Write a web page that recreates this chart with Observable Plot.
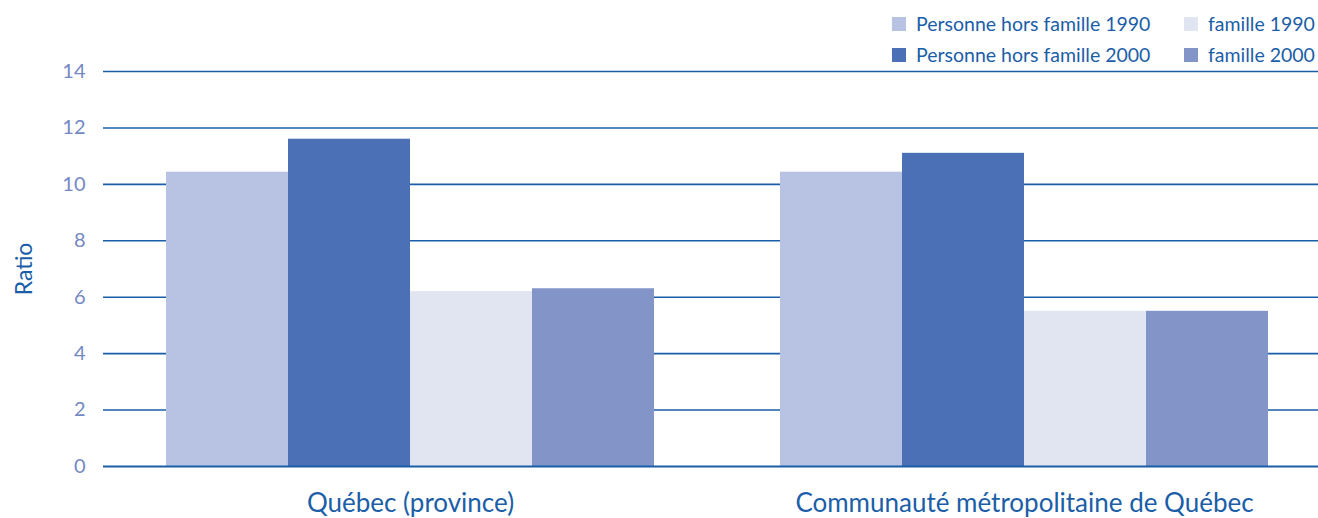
<!DOCTYPE html>
<html>
<head>
<meta charset="utf-8">
<script src="https://cdn.jsdelivr.net/npm/d3@7"></script>
<script src="https://cdn.jsdelivr.net/npm/@observablehq/plot@0.6"></script>
<style>
  body { margin: 0; background: #fff; font-family: Lato, "Open Sans", sans-serif; }
  #legend { position: relative; height: 50px; width: 1318px; }
  .item { position: absolute; display: flex; align-items: center; font-size: 19.5px; color: #1b5ea8; white-space: nowrap; line-height: 24px; }
  .sw { width: 14px; height: 14px; margin-right: 10px; }
</style>
</head>
<body>
<div id="legend"></div>
<div id="chart"></div>
<script>
const groups = ["Québec (province)", "Communauté métropolitaine de Québec"];
const series = ["Personne hors famille 1990", "Personne hors famille 2000", "famille 1990", "famille 2000"];
const colors = ["#b8c2e2", "#4b70b6", "#e0e5f1", "#8294c8"];
const personne1990 = [10.43, 10.43];
const personne2000 = [11.6, 11.1];
const famille1990 = [6.2, 5.5];
const famille2000 = [6.3, 5.5];
const yTicks = [0, 2, 4, 6, 8, 10, 12, 14];

const seriesValues = [personne1990, personne2000, famille1990, famille2000];
const data = [];
groups.forEach((g, gi) => series.forEach((s, si) => data.push({group: g, series: s, value: seriesValues[si][gi]})));

// legend
const legend = document.getElementById("legend");
const legendPos = [[892, 24], [892, 55], [1184, 24], [1184, 55]];
series.forEach((s, si) => {
  const d = document.createElement("div");
  d.className = "item";
  d.style.left = legendPos[si][0] + "px";
  d.style.top = (legendPos[si][1] - 12) + "px";
  d.innerHTML = `<span class="sw" style="background:${colors[si]}"></span><span>${s}</span>`;
  legend.appendChild(d);
});

const chart = Plot.plot({
  width: 1318,
  height: 468,
  marginTop: 21,
  marginBottom: 52,
  marginLeft: 103,
  marginRight: 0,
  style: {fontFamily: "Lato, 'Open Sans', sans-serif", fontSize: "20px", color: "#7488c4", background: "transparent"},
  facet: {data, x: "group"},
  fx: {domain: groups, range: [103, 1331], padding: 0, axis: "bottom", label: null, tickSize: 0, tickPadding: 27},
  x: {domain: series, axis: null, paddingInner: 0, paddingOuter: 0.506},
  y: {domain: [0, 14], ticks: yTicks, tickSize: 0, tickPadding: 18, label: "Ratio", labelAnchor: "center", labelOffset: 88},
  color: {domain: series, range: colors},
  marks: [
    Plot.ruleY(yTicks.filter(d => d > 0), {stroke: "#1b5ea8", strokeWidth: 1.6}),
    Plot.barY(data, {x: "series", y: "value", fill: "series"}),
    Plot.ruleY([0], {stroke: "#1b5ea8", strokeWidth: 2.2})
  ]
});
document.getElementById("chart").appendChild(chart);

// style facet labels and y label
d3.select(chart).selectAll("text").each(function() {
  const t = this.textContent.trim();
  if (groups.includes(t)) {
    d3.select(this).attr("fill", "#1b5ea8").style("font-size", "26px");
  } else if (t.startsWith("Ratio")) {
    this.textContent = "Ratio";
    d3.select(this).attr("fill", "#1b5ea8").style("font-size", "23px");
  }
});
</script>
</body>
</html>
